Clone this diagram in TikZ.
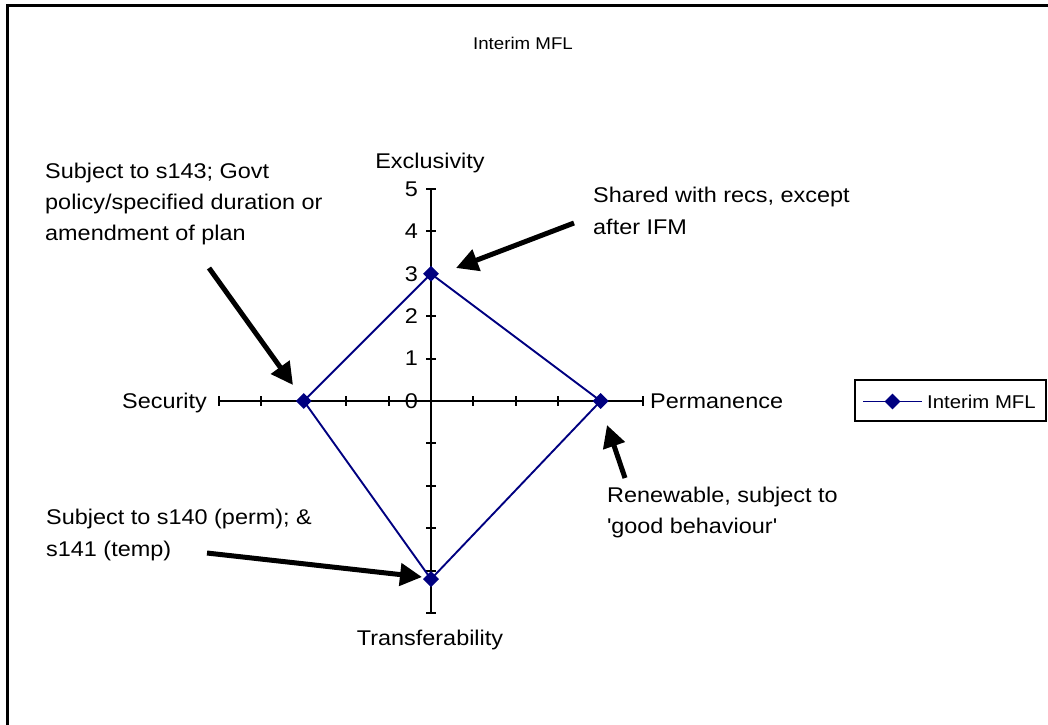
\documentclass[tikz,border=0pt]{standalone}
\usepackage{fontspec}
\setmainfont{Liberation Sans}[FakeStretch=1.1]
\usetikzlibrary{arrows.meta,shapes.geometric}

\definecolor{series}{RGB}{0,0,128}

\tikzset{
  axisline/.style={line width=2.1pt, black},
  ticks/.style={line width=1.9pt, black},
  serieline/.style={line width=1.9pt, series},
  marker/.style={diamond, fill=series, draw=none, minimum size=16pt, inner sep=0pt, aspect=1},
  lbl/.style={font=\fontsize{21.3}{25}\selectfont, inner sep=0pt},
  note/.style={font=\fontsize{21.3}{25}\selectfont, inner sep=0pt, anchor=base west},
  callout/.style={line width=5pt, black, -{Triangle[length=22pt,width=22pt]}},
}

\begin{document}
\begin{tikzpicture}[x=1pt,y=-1pt]
\useasboundingbox (0,0) rectangle (1048,724);

% chart area frame (runs past the right and bottom edges)
\begin{scope}
  \clip (0,0) rectangle (1048,724);
  \draw[line width=3pt] (7,5) rectangle (1080,760);
\end{scope}

% title
\node[lbl, font=\fontsize{17}{20}\selectfont] (title) at (523,43) {Interim MFL};

% radar axes: centre (431,401), 42.4 per unit, range 0..5
\def\u{42.4}
\coordinate (O) at (431,401);
\coordinate (axL) at (431-5*\u,401);
\coordinate (axR) at (431+5*\u,401);
\coordinate (axT) at (431,401-5*\u);
\coordinate (axB) at (431,401+5*\u);
\draw[axisline] (axL) -- (axR);
\draw[axisline] (axT) -- (axB);
\foreach \k in {-5,...,5}{
  \draw[ticks] (431+\k*\u,396) -- (431+\k*\u,406);
  \draw[ticks] (426,401+\k*\u) -- (436,401+\k*\u);
}
\foreach \k in {0,...,5}{
  \node[lbl, anchor=east] (num\k) at (418,401-\k*\u) {\k};
}

% axis names
\node[lbl, anchor=base] (nE) at (430,168) {Exclusivity};
\node[lbl, anchor=base east] (nS) at (207,408) {Security};
\node[lbl, anchor=base west] (nP) at (650,408) {Permanence};
\node[lbl, anchor=base] (nT) at (430,645) {Transferability};

% data series
\coordinate (cE) at (431,401-3*\u);
\coordinate (cP) at (431+4*\u,401);
\coordinate (cT) at (431,401+4.2*\u);
\coordinate (cS) at (431-3*\u,401);
\draw[serieline] (cE) -- (cP) -- (cT) -- (cS) -- cycle;
\node[marker] (pE) at (cE) {};
\node[marker] (pP) at (cP) {};
\node[marker] (pT) at (cT) {};
\node[marker] (pS) at (cS) {};

% legend
\draw[line width=1.5pt] (855,380) rectangle (1046,421);
\coordinate (lg1) at (863,401.5);
\coordinate (lg2) at (922,401.5);
\draw[serieline] (lg1) -- (lg2);
\node[marker] (lgm) at (892.5,401.5) {};
\node[lbl, font=\fontsize{18.5}{22}\selectfont, anchor=west] (lgt) at (927,401.5) {Interim MFL};

% annotations
\node[note] (a1a) at (45,178) {Subject to s143; Govt};
\node[note] (a1b) at (45,209) {policy/specified duration or};
\node[note] (a1c) at (45,240) {amendment of plan};

\node[note] (a2a) at (593,202) {Shared with recs, except};
\node[note] (a2b) at (593,234) {after IFM};

\node[note] (a3a) at (607,502) {Renewable, subject to};
\node[note] (a3b) at (607,533) {\textquotesingle good behaviour\textquotesingle};

\node[note] (a4a) at (46,524) {Subject to s140 (perm); \&};
\node[note] (a4b) at (46,556) {s141 (temp)};

% callout arrows
\coordinate (t1) at (209,268);  \coordinate (h1) at (293,385);
\coordinate (t2) at (574,223);  \coordinate (h2) at (456,268);
\coordinate (t3) at (625,478);  \coordinate (h3) at (607,425);
\coordinate (t4) at (207,553);  \coordinate (h4) at (422,577);
\draw[callout] (t1) -- (h1);
\draw[callout] (t2) -- (h2);
\draw[callout] (t3) -- (h3);
\draw[callout] (t4) -- (h4);
\end{tikzpicture}
\end{document}
